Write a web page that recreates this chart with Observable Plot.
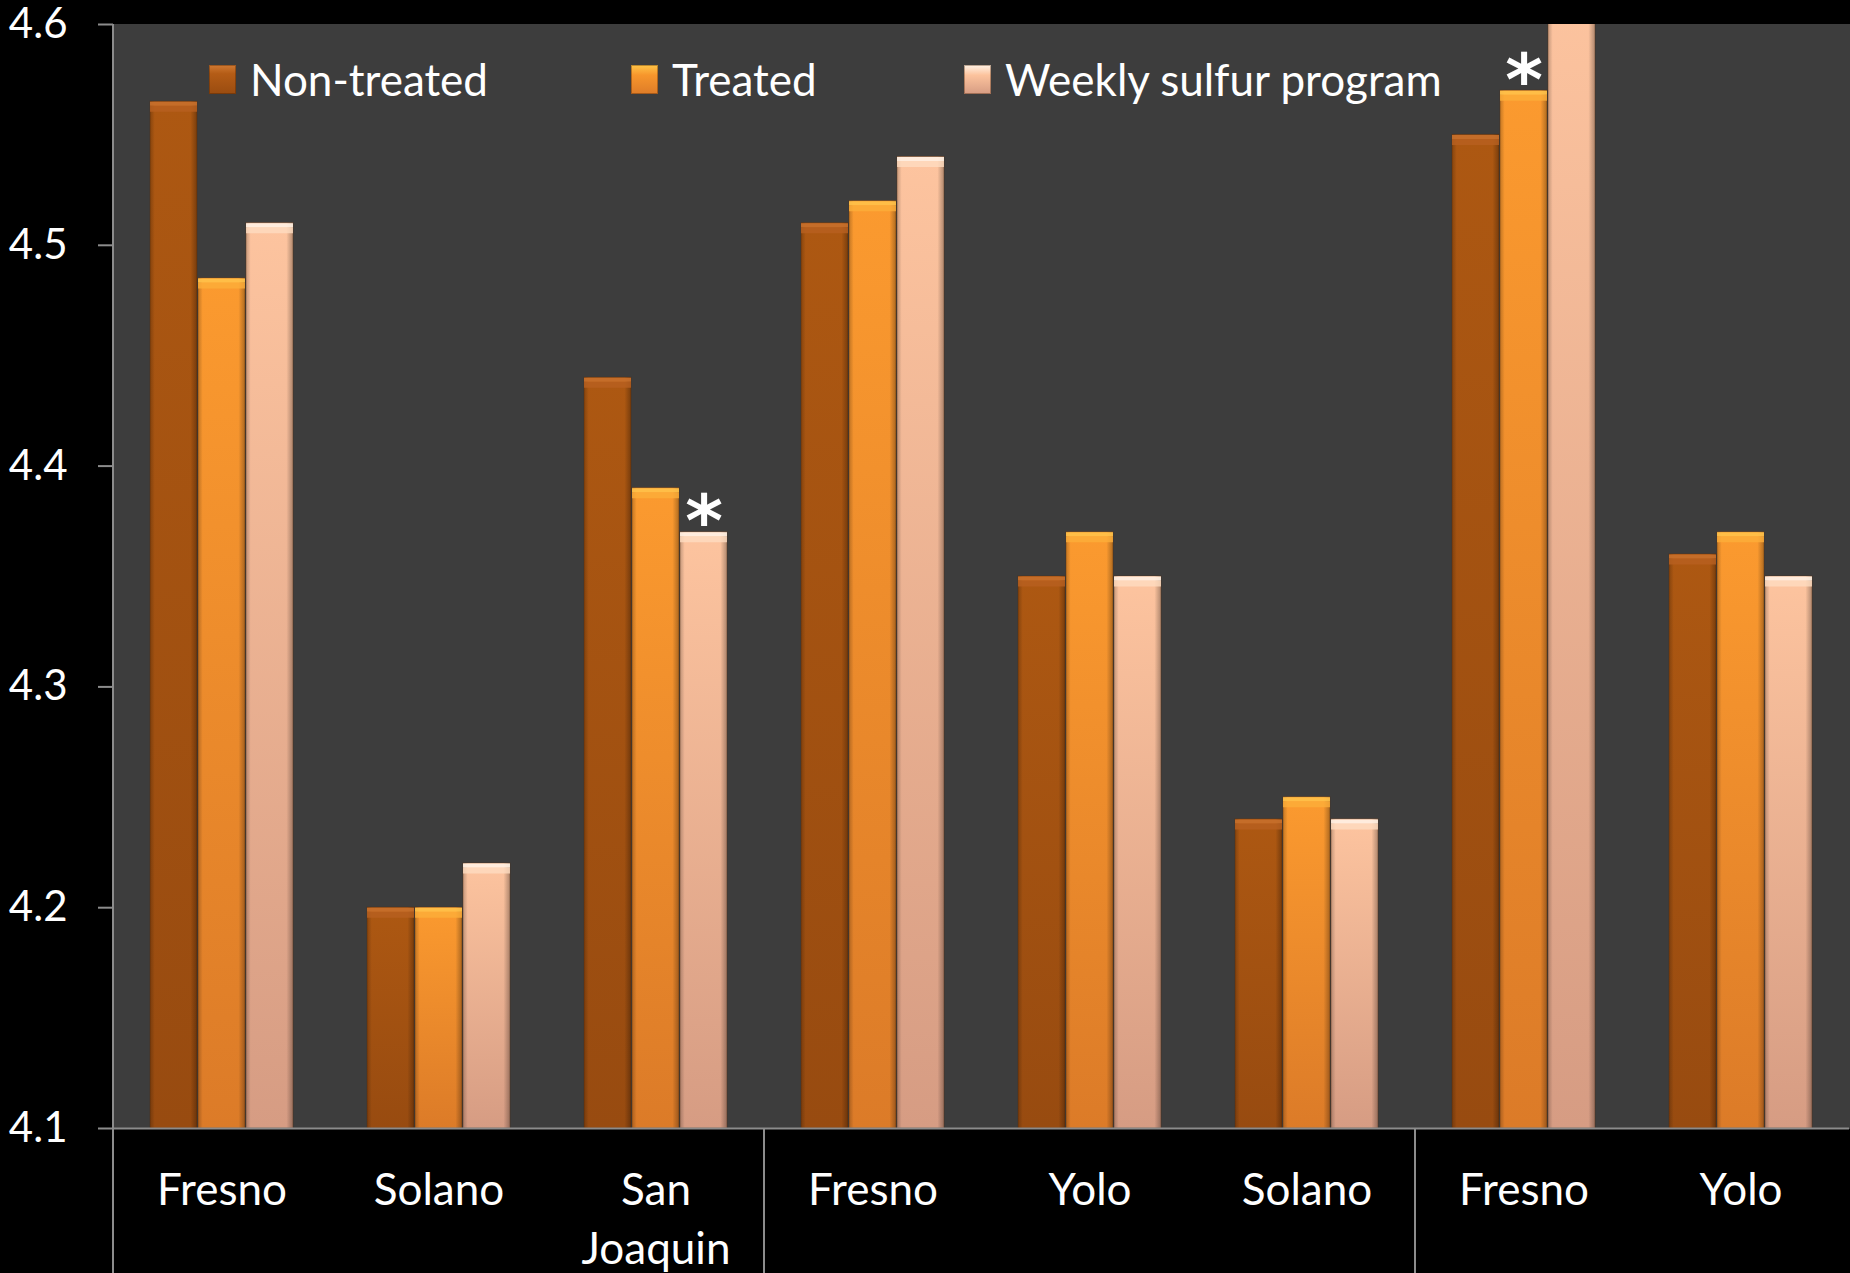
<!DOCTYPE html>
<html>
<head>
<meta charset="utf-8">
<script src="https://cdn.jsdelivr.net/npm/d3@7"></script>
<script src="https://cdn.jsdelivr.net/npm/@observablehq/plot@0.6"></script>
<style>
  html, body { margin: 0; padding: 0; background: #000; }
  #wrap { position: relative; width: 1850px; height: 1273px; overflow: hidden; background: #000; font-family: Lato, "Open Sans", sans-serif; }
  #legend { position: absolute; left: 0; top: 57px; width: 1850px; height: 50px; color: #fff; font-size: 44px; line-height: 1; white-space: nowrap; }
  #legend .item { position: absolute; top: 0; display: flex; align-items: center; gap: 14px; height: 44px; }
  #legend .sw { width: 27px; height: 29px; box-sizing: border-box; }
</style>
</head>
<body>
<svg width="0" height="0" style="position:absolute">
  <defs>
    <linearGradient id="gNT" x1="0" y1="0" x2="0" y2="1">
      <stop offset="0" stop-color="#ad5812"/>
      <stop offset="1" stop-color="#984b10"/>
    </linearGradient>
    <linearGradient id="gT" x1="0" y1="0" x2="0" y2="1">
      <stop offset="0" stop-color="#fb9a2f"/>
      <stop offset="1" stop-color="#dc7b28"/>
    </linearGradient>
    <linearGradient id="gW" x1="0" y1="0" x2="0" y2="1">
      <stop offset="0" stop-color="#fdc49f"/>
      <stop offset="1" stop-color="#d69c83"/>
    </linearGradient>
    <linearGradient id="gSide" x1="0" y1="0" x2="1" y2="0">
      <stop offset="0" stop-color="#000" stop-opacity="0.22"/>
      <stop offset="0.1" stop-color="#000" stop-opacity="0"/>
      <stop offset="0.86" stop-color="#000" stop-opacity="0"/>
      <stop offset="1" stop-color="#000" stop-opacity="0.3"/>
    </linearGradient>
  </defs>
</svg>
<div id="wrap">
  <div id="chart"></div>
  <div id="legend"></div>
</div>
<script>
// ---- data ----
const series = ["Non-treated", "Treated", "Weekly sulfur program"];
const sites = ["Fresno", "Solano", "San\nJoaquin", "Fresno", "Yolo", "Solano", "Fresno", "Yolo"];
const groupStarts = [0, 3, 6];
const nonTreated = [4.565, 4.20, 4.44, 4.51, 4.35, 4.24, 4.55, 4.36];
const treated    = [4.485, 4.20, 4.39, 4.52, 4.37, 4.25, 4.57, 4.37];
const weekly     = [4.51, 4.22, 4.37, 4.54, 4.35, 4.24, 4.62, 4.35];
const significant = [{site: 2, series: 2}, {site: 6, series: 1}];
const yTicks = [4.1, 4.2, 4.3, 4.4, 4.5, 4.6];

// ---- styles ----
const fills = ["url(#gNT)", "url(#gT)", "url(#gW)"];
const bevels = ["#c8702c", "#ffc24a", "#fff1e3"];
const bevels2 = ["#b86020", "#fcae3a", "#fedcc0"];
const swatchCss = [
  "linear-gradient(#d07a33 0%, #b45c16 30%, #9a4c10 100%)",
  "linear-gradient(#ffc548 0%, #f7962c 35%, #de7c28 100%)",
  "linear-gradient(#fff3e6 0%, #fcc39d 35%, #d69c83 100%)"
];
const legendLeft = [209, 631, 964];

const values = [nonTreated, treated, weekly];
const keys = sites.map((_, i) => "c" + i);
const data = [];
sites.forEach((s, i) => series.forEach((se, j) => data.push({site: keys[i], series: se, si: j, value: values[j][i]})));
const stars = significant.map(d => ({site: keys[d.site], series: series[d.series], value: values[d.series][d.site]}));
const yBase = yTicks[0];

const plot = Plot.plot({
  width: 1850,
  height: 1273,
  marginLeft: 112,
  marginRight: 0,
  marginTop: 24,
  marginBottom: 145,
  style: {background: "#000", color: "#fff", fontFamily: "Lato, 'Open Sans', sans-serif", overflow: "visible"},
  fx: {domain: keys, padding: 0},
  x: {domain: series, paddingInner: 0.03, paddingOuter: 0.75, axis: null},
  y: {domain: [yTicks[0], yTicks[yTicks.length - 1]]},
  color: {type: "identity"},
  marks: [
    Plot.frame({fill: "#3d3d3d", stroke: "#3d3d3d", strokeWidth: 1}),
    Plot.barY(data, {fx: "site", x: "series", y1: yBase, y2: "value", fill: d => fills[d.si], stroke: "#5a2a08", strokeOpacity: 0.35, strokeWidth: 1, clip: true}),
    Plot.barY(data, {fx: "site", x: "series", y1: yBase, y2: "value", fill: "url(#gSide)", clip: true}),
    Plot.tickY(data, {fx: "site", x: "series", y: "value", stroke: d => bevels2[d.si], strokeWidth: 6, strokeOpacity: 0.8, dy: 7, clip: true}),
    Plot.tickY(data, {fx: "site", x: "series", y: "value", stroke: d => bevels[d.si], strokeWidth: 4, strokeOpacity: 0.9, dy: 2, clip: true}),
    Plot.ruleY([yBase], {stroke: "#8c8c8c", strokeWidth: 2}),
    Plot.text(stars, {fx: "site", x: "series", y: "value", text: () => "*", fontFamily: "'DejaVu Sans', sans-serif", fontSize: 72, fontWeight: "bold", fill: "#fff", lineAnchor: "bottom", dy: 14}),
    Plot.axisY({ticks: yTicks, tickSize: 15, tickPadding: 31, fontSize: 42, stroke: "#8c8c8c", strokeWidth: 2, fill: "#fff", tickFormat: d3.format(".1f"), label: null}),
    Plot.axisFx({anchor: "bottom", tickSize: 0, tickPadding: 35, fontSize: 44, lineHeight: 1.33, fill: "#fff", tickFormat: k => sites[keys.indexOf(k)], label: null})
  ]
});

document.getElementById("chart").appendChild(plot);

// vertical separators (axis line and group dividers), positioned through the plot's scales
const fxs = plot.scale("fx");
const ys = plot.scale("y");
const svg = d3.select(plot);
groupStarts.forEach((g, idx) => {
  const x = fxs.apply(keys[g]);
  svg.append("line")
    .attr("x1", x).attr("x2", x)
    .attr("y1", idx === 0 ? ys.apply(yTicks[yTicks.length - 1]) : ys.apply(yBase))
    .attr("y2", 1273)
    .attr("stroke", "#8c8c8c").attr("stroke-width", 2);
});

// legend
const legend = d3.select("#legend");
series.forEach((s, i) => {
  const item = legend.append("div").attr("class", "item").style("left", legendLeft[i] + "px");
  item.append("div").attr("class", "sw").style("background", swatchCss[i]).style("box-shadow", "inset 0 0 0 1px rgba(60,25,0,0.35)");
  item.append("span").text(s);
});
</script>
</body>
</html>
